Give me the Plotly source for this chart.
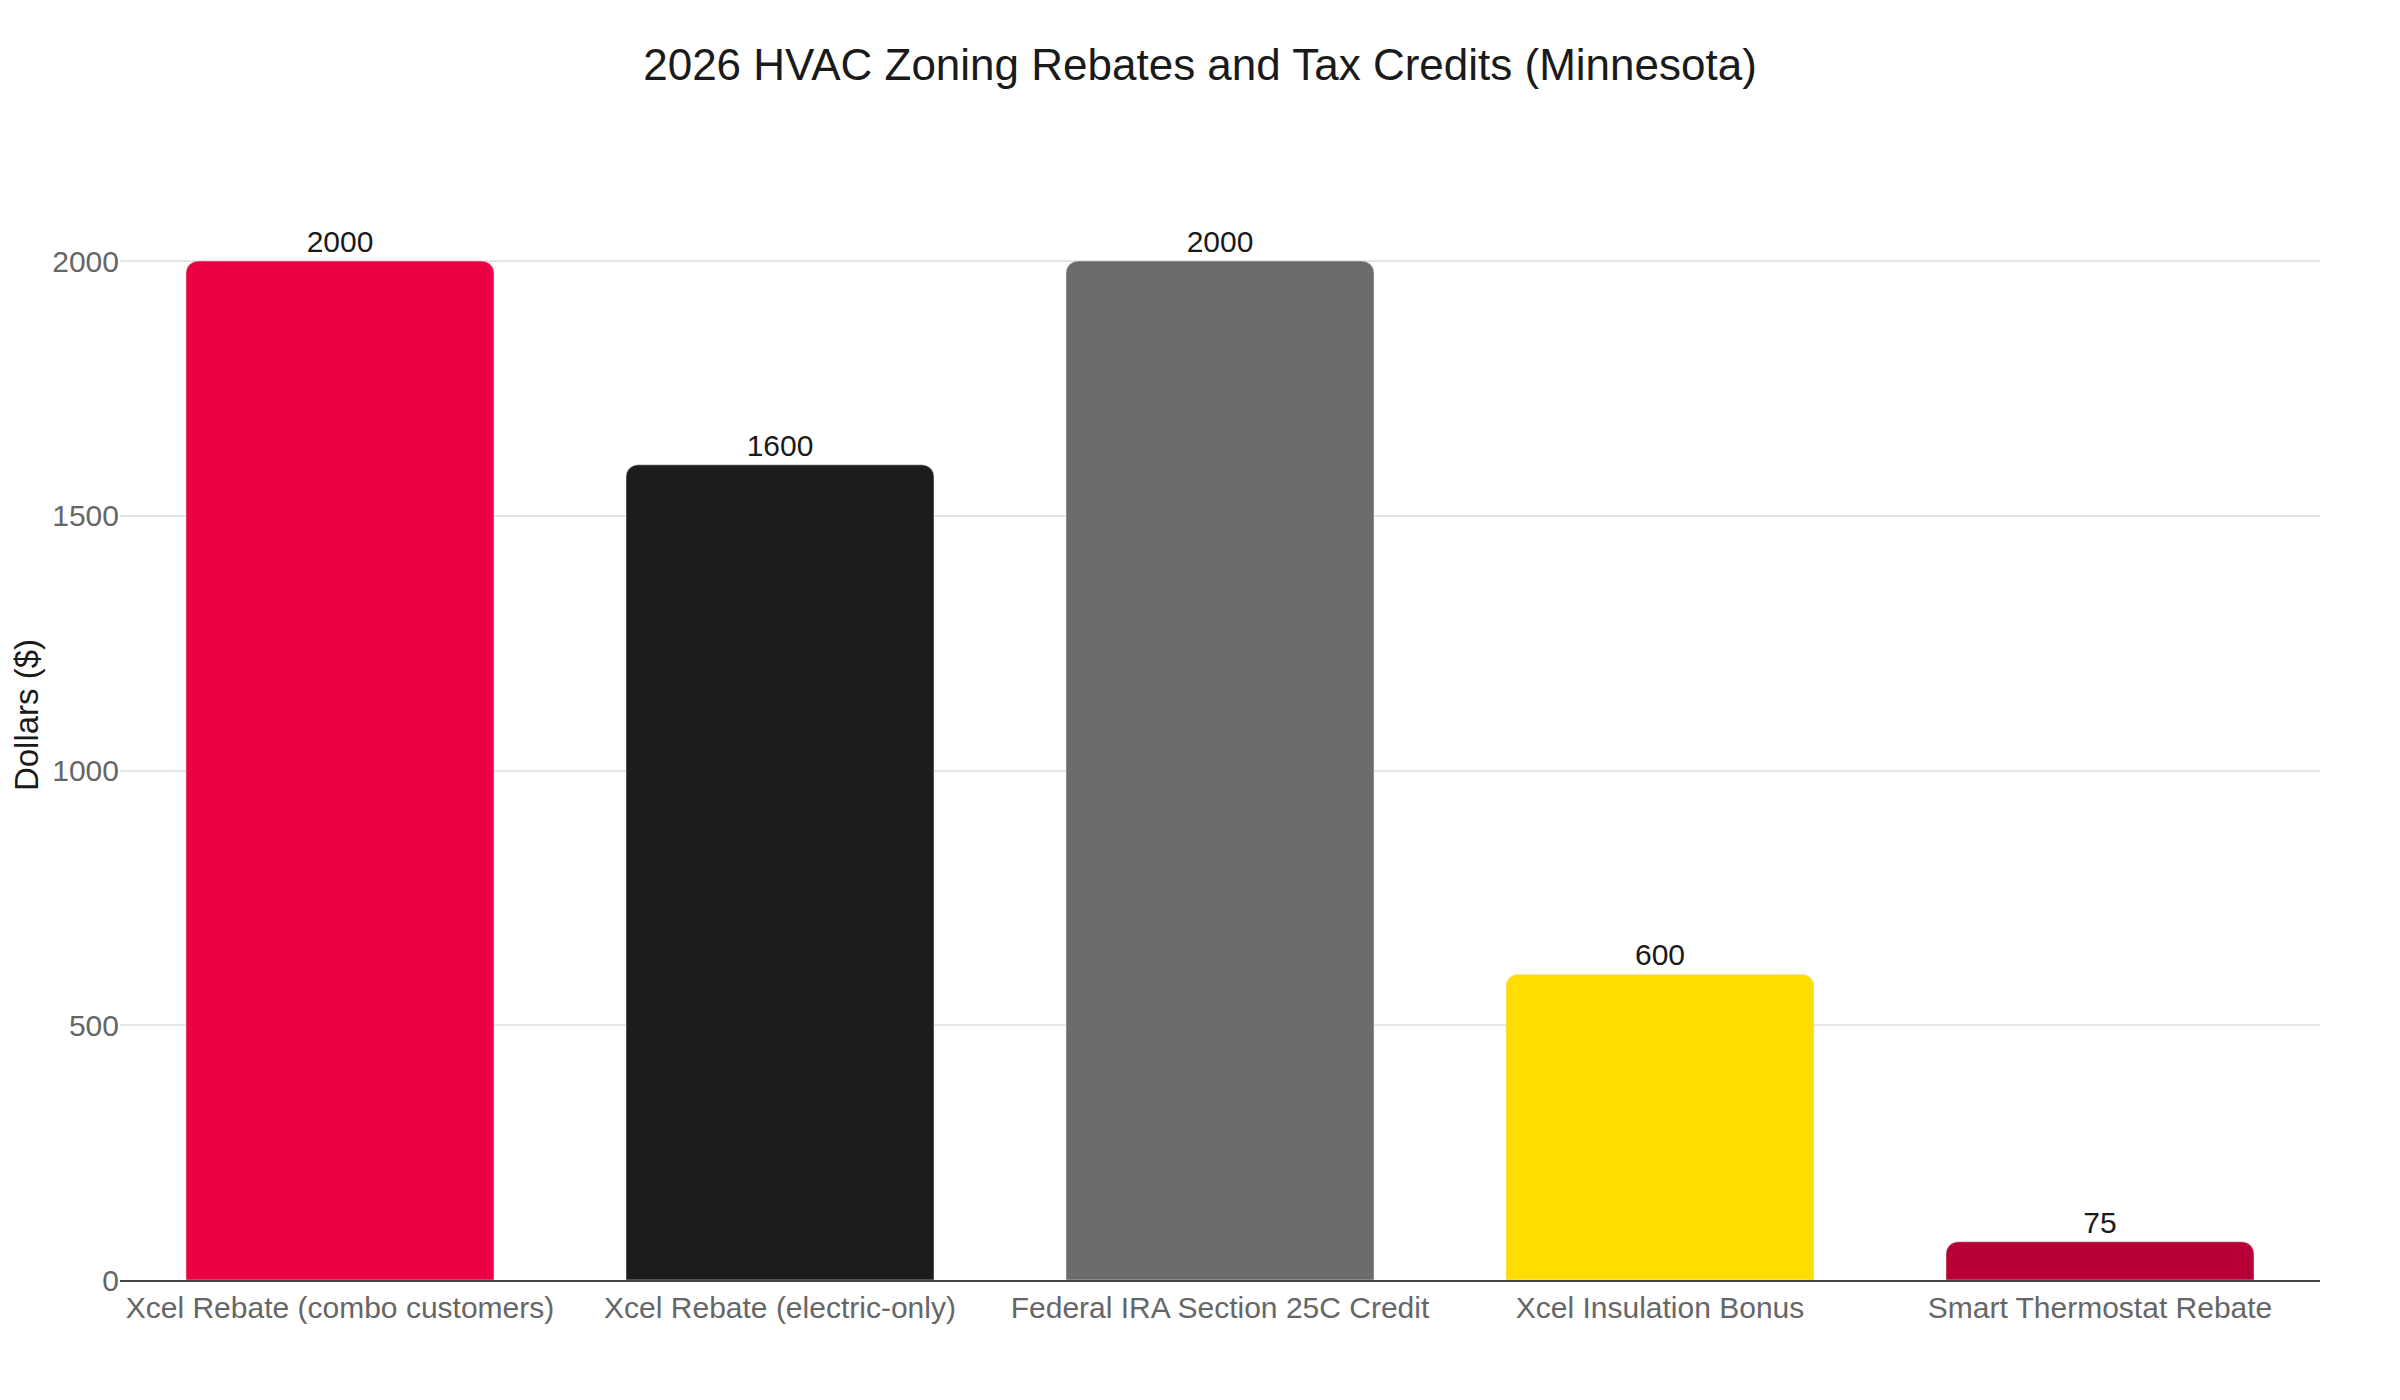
import plotly.graph_objects as go

# rebate / credit programs and their max dollar amounts
programs = ['Xcel Rebate (combo customers)', 'Xcel Rebate (electric-only)',
            'Federal IRA Section 25C Credit', 'Xcel Insulation Bonus',
            'Smart Thermostat Rebate']
amounts = [2000, 1600, 2000, 600, 75]
bar_colors = ['#EC0044', '#1C1C1C', '#6B6B6B', '#FFDD00', '#B80036']

fig = go.Figure(go.Bar(
    x=programs,
    y=amounts,
    text=amounts,
    textposition='outside',
    textfont=dict(size=30, color='#1a1a1a'),
    marker=dict(color=bar_colors, cornerradius=12),
    cliponaxis=False,
))

fig.update_layout(
    width=2400, height=1400,
    font=dict(family='Liberation Sans, Arial, sans-serif'),
    title=dict(text='2026 HVAC Zoning Rebates and Tax Credits (Minnesota)',
               x=(1200 - 8) / 2400, xanchor='center', y=1 - 57 / 1400, yanchor='middle',
               font=dict(size=44, color='#1a1a1a')),
    paper_bgcolor='white', plot_bgcolor='white',
    margin=dict(l=112, r=88, t=142, b=128),
    bargap=0.3,
    showlegend=False,
)
fig.update_xaxes(showline=True, linecolor='#444', linewidth=2, automargin=False,
                 tickfont=dict(size=30, color='#666'), showgrid=False)
fig.update_yaxes(title=dict(text='Dollars ($)', font=dict(size=33, color='#1a1a1a'),
                            standoff=18),
                 automargin=False,
                 range=[0, 2218], tickvals=[0, 500, 1000, 1500, 2000],
                 tickfont=dict(size=30, color='#666'),
                 showgrid=True, gridcolor='#E5E5E5', gridwidth=2, zeroline=False)

fig.write_html('out.html')
